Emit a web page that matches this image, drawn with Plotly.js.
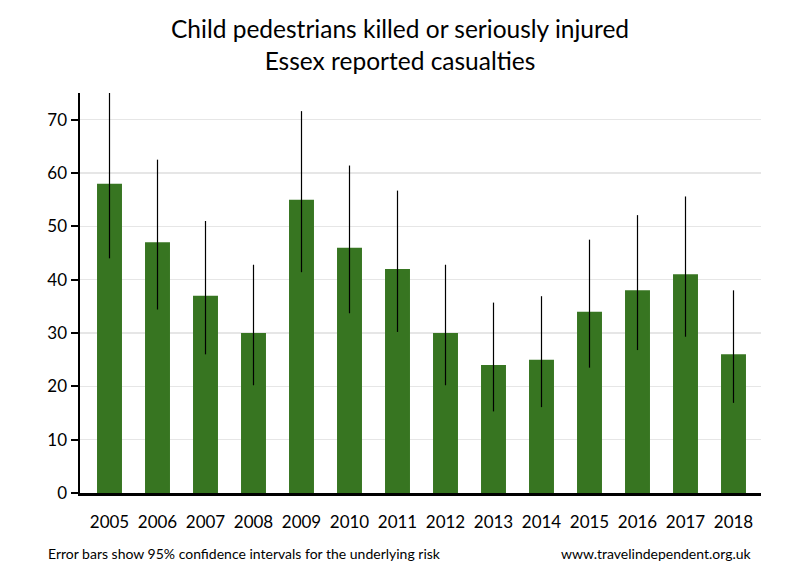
<!DOCTYPE html>
<html>
<head>
<meta charset="utf-8">
<script src="https://cdn.plot.ly/plotly-3.0.1.min.js"></script>
<style>html,body{margin:0;padding:0;background:#fff;}#chart{width:800px;height:580px;}</style>
</head>
<body>
<div id="chart"></div>
<script>
const years = ["2005","2006","2007","2008","2009","2010","2011","2012","2013","2014","2015","2016","2017","2018"];
const casualties = [58, 47, 37, 30, 55, 46, 42, 30, 24, 25, 34, 38, 41, 26];
const ciUpper = [75.0, 62.5, 51.0, 42.8, 71.6, 61.4, 56.7, 42.8, 35.7, 36.9, 47.5, 52.1, 55.6, 38.0];
const ciLower = [44.0, 34.4, 26.0, 20.2, 41.4, 33.7, 30.2, 20.2, 15.3, 16.1, 23.5, 26.8, 29.3, 16.9];
const titleLines = ['Child pedestrians killed or seriously injured', 'Essex reported casualties'];
const footNote = 'Error bars show 95% confidence intervals for the underlying risk';
const sourceText = 'www.travelindependent.org.uk';

const plus = casualties.map((v, i) => ciUpper[i] - v);
const minus = casualties.map((v, i) => v - ciLower[i]);

const trace = {
  type: 'bar',
  x: years,
  y: casualties,
  marker: {color: '#377521'},
  error_y: {type: 'data', symmetric: false, array: plus, arrayminus: minus,
            color: '#000000', thickness: 1.2, width: 0},
  hoverinfo: 'x+y'
};

const layout = {
  width: 800, height: 580,
  margin: {l: 80, r: 39, t: 93, b: 87},
  paper_bgcolor: '#ffffff', plot_bgcolor: '#ffffff',
  font: {family: 'Lato, "Open Sans", sans-serif', color: '#000000'},
  bargap: 0.48,
  showlegend: false,
  xaxis: {
    type: 'category',
    range: [-0.6146, 13.573],
    showline: true, linewidth: 2.5, linecolor: '#000000',
    showgrid: false, ticks: '', zeroline: false,
    tickfont: {size: 17, color: '#000000'},
    ticklabelstandoff: 12
  },
  yaxis: {
    range: [0, 75],
    dtick: 10, tick0: 0,
    showline: true, linewidth: 2.5, linecolor: '#000000',
    ticks: 'outside', ticklen: 7, tickwidth: 2, tickcolor: '#000000',
    showgrid: true, gridcolor: '#e6e6e6', gridwidth: 1.5,
    zeroline: false,
    tickfont: {size: 17, color: '#000000'}
  },
  annotations: [
    {text: titleLines.join('<br>'),
     xref: 'paper', yref: 'paper', x: (400 - 80) / 681, y: 1 + (93 - 12) / 400,
     xanchor: 'center', yanchor: 'top', showarrow: false, align: 'center',
     font: {size: 24.5, color: '#000000'}},
    {text: footNote,
     xref: 'paper', yref: 'paper', x: -0.05, y: -0.15, xanchor: 'left', yanchor: 'middle',
     showarrow: false, font: {size: 14, color: '#000000'}},
    {text: sourceText,
     xref: 'paper', yref: 'paper', x: 0.99, y: -0.15, xanchor: 'right', yanchor: 'middle',
     showarrow: false, font: {size: 14, color: '#000000'}}
  ]
};

Plotly.newPlot('chart', [trace], layout, {displayModeBar: false, staticPlot: true});
</script>
</body>
</html>
